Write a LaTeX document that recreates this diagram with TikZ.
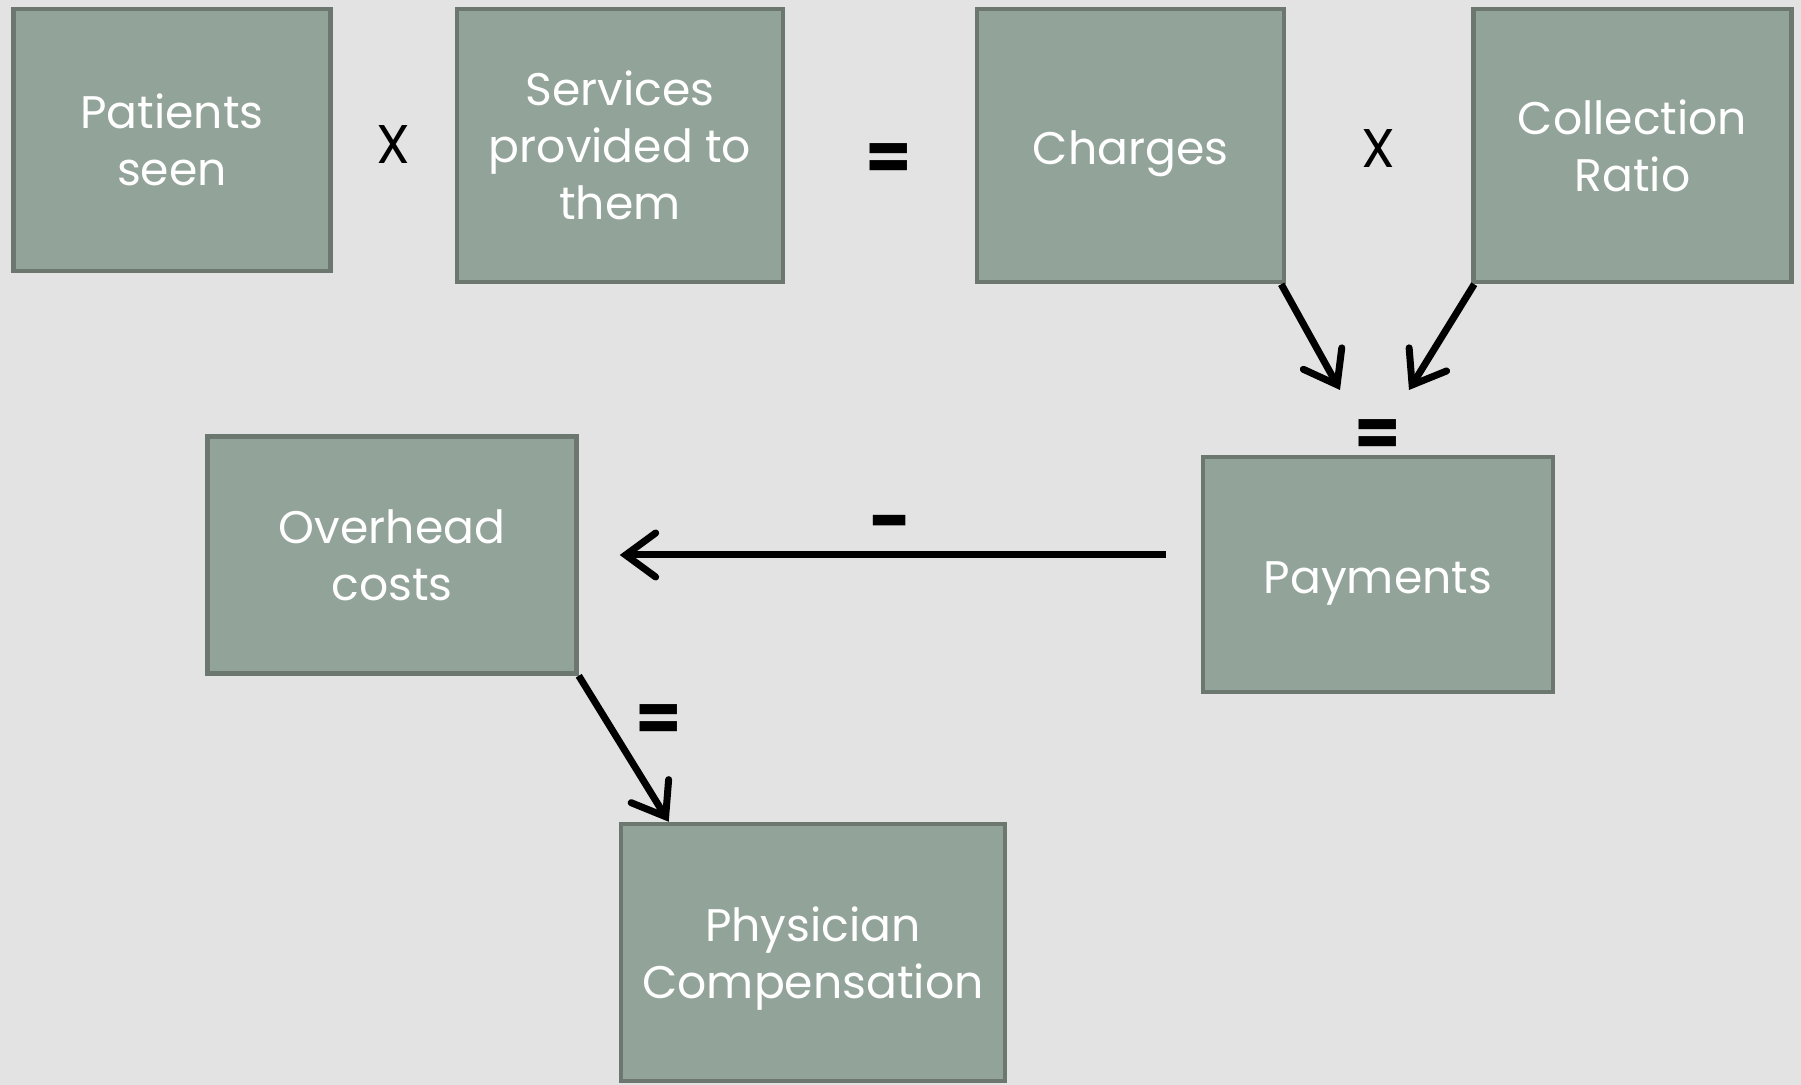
\documentclass[tikz,border=0pt]{standalone}
\usepackage{fontspec}
\setmainfont{Poppins}
\usepackage{tikz}
\usetikzlibrary{arrows.meta,positioning}

\definecolor{boxfill}{HTML}{92A399}
\definecolor{boxline}{HTML}{6C786F}
\definecolor{slide}{HTML}{E3E3E3}

\begin{document}
\begin{tikzpicture}[
  x=0.1mm, y=-0.1mm,
  font=\fontsize{13}{16.2}\selectfont,
  box/.style={draw=boxline, line width=0.45mm, fill=boxfill, text=white,
              align=center, inner sep=0pt},
  oneline/.style={text height=1.1em, text depth=0pt},
  op/.style={font=\fontsize{15.5}{18}\selectfont},
  eq/.style={font=\fontsize{19}{22}\selectfont\bfseries},
  arr/.style={-{Straight Barb[length=3mm,width=4.4mm,line cap=round]},
              line width=0.7mm},
]
\fill[slide] (0,0) rectangle (1801,1085);
\useasboundingbox (0,0) rectangle (1801,1085);

% top row: patients x services = charges x ratio
\node[box, minimum width=31.7mm, minimum height=26.2mm] (patients) at (172,140) {Patients\\seen};
\node[box, minimum width=32.6mm, minimum height=27.3mm, right=12.2mm of patients.north east,
      anchor=north west] (services) {Services\\provided to\\them};
\node[box, oneline, minimum width=30.7mm, minimum height=27.3mm, right=18.95mm of services.north east,
      anchor=north west] (charges) {Charges};
\node[box, minimum width=31.8mm, minimum height=27.3mm, right=18.5mm of charges.north east,
      anchor=north west] (ratio) {Collection\\Ratio};

\node[op] (times1) at (393,145) {X};
\node[eq] (equals1) at (889,162) {=};
\node[op] (times2) at (1378,149) {X};

% lower part
\node[box, oneline, minimum width=35.0mm, minimum height=23.5mm] (payments) at (1378,574.5) {Payments};
\node[box, minimum width=36.9mm, minimum height=23.7mm] (overhead) at (392,555) {Overhead\\costs};
\node[box, text depth=0pt, minimum width=38.4mm, minimum height=25.7mm] (physician) at (813,952.5) {Physician\\Compensation};

\node[eq] (equals2) at (1378,438) {=};
\node[op, font=\fontsize{21}{24}\selectfont] (minus) at (891,531) {\textbf{-}};
\node[eq] (equals3) at (659,723) {=};

\coordinate (payin1) at (1340,390);
\coordinate (payin2) at (1409,390);

\draw[arr] ([xshift=-0.5mm]charges.south east) -- (payin1);
\draw[arr] ([xshift=0.3mm]ratio.south west) -- (payin2);
\draw[arr, shorten <=3.5mm, shorten >=4.1mm] (payments.west |- overhead.east) -- (overhead.east);
\draw[arr] (overhead.south east) -- ([xshift=5mm]physician.north west);
\end{tikzpicture}
\end{document}
